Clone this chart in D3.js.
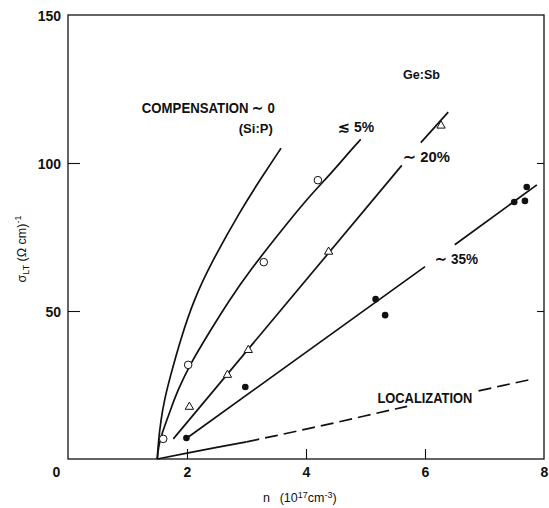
<!DOCTYPE html>
<html>
<head>
<meta charset="utf-8">
<script src="https://cdn.jsdelivr.net/npm/d3@7"></script>
<style>
  body { margin: 0; background: #fff; }
  svg text { fill: #111; }
</style>
</head>
<body>
<svg id="chart" width="549" height="508"></svg>
<script>
// tick values
const nTicks = [0, 2, 4, 6, 8];
const sigmaTicks = [50, 100, 150];

// Si:P curve (compensation ~ 0)
const siP = [[1.5, 0], [1.52, 6], [1.56, 13], [1.62, 20], [1.72, 28], [1.9, 41], [2.12, 54], [2.4, 66], [2.9, 84], [3.25, 95], [3.58, 105]];
// <~5% curve
const comp5 = [[1.5, 0], [1.52, 4], [1.57, 8], [1.64, 12], [1.73, 17], [1.84, 23], [2.05, 32], [2.38, 43], [2.72, 54], [3.09, 64.5], [3.5, 75], [4.02, 88], [4.4, 96], [4.74, 104], [4.92, 108]];
// ~20% line (broken by its label)
const comp20 = [[[1.77, 6.8], [5.61, 99.2]], [[5.93, 106.9], [6.39, 117.2]]];
// ~35% line
const comp35 = [[[2.0, 7.1], [6.0, 65]], [[6.5, 72.4], [7.88, 92.6]]];
// localization line: solid start, then dashed
const locSolid = [[1.5, 0], [2.0, 2.0], [2.5, 3.9], [3.0, 5.8]];
const locDashed = [[[3.0, 5.8], [3.5, 7.9], [4.0, 10.1], [4.5, 12.3], [5.0, 14.6], [5.5, 16.9], [5.7, 17.8]], [[6.9, 23.0], [7.3, 24.8], [7.76, 26.8]]];

// measured points
const circles = [[1.6, 6.8], [2.02, 31.8], [3.29, 66.5], [4.2, 94.2]];
const triangles = [[2.04, 17.6], [2.68, 28.4], [3.03, 36.8], [4.38, 70], [6.27, 112.6]];
const dots = [[1.99, 7.1], [2.98, 24.3], [5.17, 54], [5.33, 48.6], [7.5, 86.8], [7.68, 87.2], [7.71, 91.9]];

const svg = d3.select("#chart");
const x = d3.scaleLinear().domain([0, 8]).range([68, 544]);
const y = d3.scaleLinear().domain([0, 150]).range([459, 15]);
const ink = "#111";
const boldFont = "'Liberation Sans Narrow', 'Liberation Sans', Arial, sans-serif";

// frame
svg.append("rect")
  .attr("x", x(0)).attr("y", y(150))
  .attr("width", x(8) - x(0)).attr("height", y(0) - y(150))
  .attr("fill", "none").attr("stroke", ink).attr("stroke-width", 1.3);

// axes
const xAxis = svg.append("g")
  .attr("transform", `translate(0,${y(0)})`)
  .call(d3.axisBottom(x).tickValues(nTicks).tickSizeInner(-10).tickSizeOuter(0).tickPadding(8).tickFormat(d3.format("d")));
xAxis.select(".domain").remove();
xAxis.selectAll(".tick line").attr("stroke", ink).attr("stroke-width", 1.1)
  .filter(d => d === 0 || d === 8).remove();
xAxis.selectAll(".tick text").filter(d => d === 0).attr("x", -12);

const yAxis = svg.append("g")
  .attr("transform", `translate(${x(0)},0)`)
  .call(d3.axisLeft(y).tickValues(sigmaTicks).tickSizeInner(-12).tickSizeOuter(0).tickPadding(7));
yAxis.select(".domain").remove();
yAxis.selectAll(".tick line").attr("stroke", ink).attr("stroke-width", 1.1)
  .filter(d => d === 150).remove();
yAxis.selectAll(".tick text").attr("dy", "0.36em");

const yRight = svg.append("g")
  .attr("transform", `translate(${x(8)},0)`)
  .call(d3.axisRight(y).tickValues([50, 100]).tickSizeInner(-7).tickSizeOuter(0).tickFormat(""));
yRight.select(".domain").remove();
yRight.selectAll(".tick line").attr("stroke", ink).attr("stroke-width", 1.1);

svg.selectAll(".tick text")
  .attr("font-family", "'Liberation Sans', Arial, sans-serif")
  .attr("font-weight", "bold")
  .attr("font-size", 14)
  .style("fill", ink);

// curves
const curve = d3.line().x(d => x(d[0])).y(d => y(d[1])).curve(d3.curveBasis);
const straight = d3.line().x(d => x(d[0])).y(d => y(d[1]));

const lines = svg.append("g").attr("fill", "none").attr("stroke", ink).attr("stroke-width", 1.7);
lines.append("path").attr("d", curve(siP));
lines.append("path").attr("d", curve(comp5));
comp20.forEach(seg => lines.append("path").attr("d", straight(seg)));
comp35.forEach(seg => lines.append("path").attr("d", straight(seg)));
lines.append("path").attr("d", straight(locSolid));
locDashed.forEach(seg => lines.append("path").attr("d", straight(seg)).attr("stroke-dasharray", "13,6"));

// markers
svg.append("g").selectAll("circle").data(circles).join("circle")
  .attr("cx", d => x(d[0])).attr("cy", d => y(d[1])).attr("r", 3.8)
  .attr("fill", "#fff").attr("stroke", ink).attr("stroke-width", 1);

svg.append("g").selectAll("path").data(triangles).join("path")
  .attr("transform", d => `translate(${x(d[0])},${y(d[1])})`)
  .attr("d", d3.symbol(d3.symbolTriangle, 30))
  .attr("fill", "#fff").attr("stroke", ink).attr("stroke-width", 1);

svg.append("g").selectAll("circle").data(dots).join("circle")
  .attr("cx", d => x(d[0])).attr("cy", d => y(d[1])).attr("r", 3.3)
  .attr("fill", ink);

// annotations
const notes = [
  { text: "COMPENSATION \u223C 0", px: 1.24, py: 116.9, size: 15, len: 133 },
  { text: "(Si:P)", px: 2.87, py: 110, size: 12.5, len: 34 },
  { text: "\u2272 5%", px: 4.54, py: 110.5, size: 14, len: 36 },
  { text: "Ge:Sb", px: 5.63, py: 128.5, size: 13, len: 37 },
  { text: "\u223C 20%", px: 5.63, py: 100.3, size: 14.5, len: 47 },
  { text: "\u223C 35%", px: 6.17, py: 66, size: 14.5, len: 43 },
  { text: "LOCALIZATION", px: 5.2, py: 18.9, size: 14.5, len: 95 }
];
svg.append("g").selectAll("text").data(notes).join("text")
  .attr("x", d => x(d.px)).attr("y", d => y(d.py))
  .attr("font-family", boldFont).attr("font-weight", "bold")
  .attr("font-size", d => d.size)
  .attr("textLength", d => d.len).attr("lengthAdjust", "spacingAndGlyphs")
  .text(d => d.text);

// axis titles
const yTitle = svg.append("text")
  .attr("transform", "translate(26,249) rotate(-90)")
  .attr("text-anchor", "middle")
  .attr("font-family", "'Liberation Sans', Arial, sans-serif")
  .attr("font-size", 12.5);
yTitle.append("tspan").text("\u03C3");
yTitle.append("tspan").attr("font-size", 9).attr("dy", 3).text("LT");
yTitle.append("tspan").attr("dy", -3).text(" (\u03A9 cm)");
yTitle.append("tspan").attr("font-size", 9).attr("dy", -5).text("-1");

const xTitle = svg.append("text")
  .attr("x", 263).attr("y", 502)
  .attr("font-family", "'Liberation Sans', Arial, sans-serif")
  .attr("font-size", 12.5);
xTitle.append("tspan").text("n\u2002 (10");
xTitle.append("tspan").attr("font-size", 9).attr("dy", -4).text("17");
xTitle.append("tspan").attr("dy", 4).text("cm");
xTitle.append("tspan").attr("font-size", 9).attr("dy", -4).text("-3");
xTitle.append("tspan").attr("dy", 4).text(")");
</script>
</body>
</html>
